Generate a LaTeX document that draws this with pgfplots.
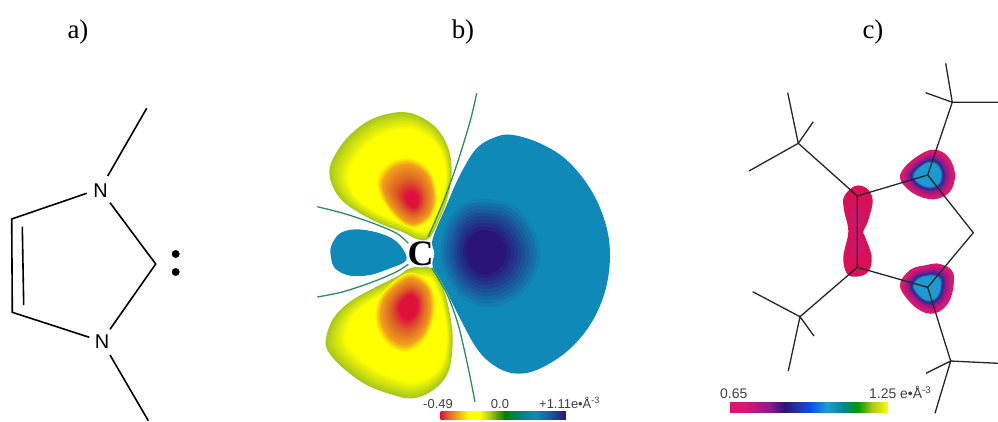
\documentclass[border=0pt]{standalone}
\usepackage{fontspec}
\setmainfont{Liberation Serif}
\newfontfamily\arial{Liberation Sans}
\usepackage{pgfplots}
\usepackage{pgfplotstable}
\pgfplotsset{compat=1.18}
\definecolor{bluebase}{HTML}{0F8AB8}
\definecolor{navy}{HTML}{2A1478}
\definecolor{lgreen}{HTML}{A8C81C}
\definecolor{yel}{HTML}{FFFF00}
\definecolor{ora}{HTML}{F09A1E}
\definecolor{redo}{HTML}{DC5A28}
\definecolor{crim}{HTML}{E0103C}
\definecolor{cgreen}{HTML}{2E8C62}
\definecolor{mag}{HTML}{D8186E}
\definecolor{pur}{HTML}{8A1A90}
\definecolor{dnavy}{HTML}{2A2A90}
\definecolor{cyanb}{HTML}{1C9BD0}
\definecolor{dumb}{HTML}{D81058}
% contours in zoomed pixel coordinates
\pgfplotstableread{
x y
398 462
440 360
480 270
530 190
590 155
640 150
720 175
800 225
870 310
915 410
930 510
915 620
870 720
800 800
710 855
640 865
580 840
530 790
480 700
430 600
398 545
403 505
}\Rlobe
\pgfplotstableread{
x y
550 370
620 385
670 440
690 510
665 580
610 625
545 635
490 605
455 550
445 490
465 420
505 380
}\Rcore
\pgfplotstableread{
x y
387 460
420 400
445 330
455 260
445 190
410 130
350 90
290 82
210 105
140 160
95 230
90 280
120 340
180 385
250 420
310 442
350 462
}\Ulobe
\pgfplotstableread{
x y
335 235
385 270
403 340
385 395
340 420
295 395
255 340
245 290
280 245
}\Ucore
\pgfplotstableread{
x y
395 550
430 610
450 690
458 770
445 860
400 915
340 940
280 930
200 900
130 850
85 800
78 760
100 700
150 650
220 610
290 575
335 548
}\Llobe
\pgfplotstableread{
x y
335 575
385 610
395 680
370 750
320 785
270 765
240 710
245 650
285 600
}\Lcore
\pgfplotstableread{
x y
318 510
290 470
240 445
170 433
120 445
95 480
92 510
105 550
150 572
210 570
270 550
312 532
}\Slobe
\pgfplotstableread{
x y
690 270
740 285
765 340
750 395
700 418
640 400
600 355
625 310
}\Tri
\pgfplotstableread{
x y
720 612
760 640
750 720
705 760
650 745
600 680
630 630
680 615
}\Trib
\pgfplotstableread{
x y
465 378
500 385
518 420
505 480
490 515
495 530
515 590
505 635
470 650
440 640
430 590
445 515
432 450
432 410
}\Dumb
\pgfplotstableread{
x y
362 467
390 479
402 507
390 535
362 547
334 535
322 507
334 479
}\Disc
\newcommand\Blob[7]{%
 \addplot[draw=none,fill=#7,smooth cycle,tension=0.6,forget plot] table[
  x expr={#2+(#4+#6*(\thisrow{x}-#4))/3},
  y expr={#3+(#5+#6*(\thisrow{y}-#5))/3}] {#1};}
% ramp of nested contours from scale s0, colour c0 to scale s1, colour c1
\newcommand\Ramp[9]{%
 \foreach \i in {0,...,10}{%
  \pgfmathsetmacro\sc{#6+(#7-#6)*\i/10}%
  \pgfmathtruncatemacro\pc{100-10*\i}%
  \edef\tmp{\noexpand\Blob{\noexpand#1}{#2}{#3}{#4}{#5}{\sc}{#8!\pc!#9}}\tmp
 }}
\newcommand\Seg[6]{%
 \addplot[draw=none,left color=#5,right color=#6,forget plot] coordinates {(#1,#3)(#2,#3)(#2,#4)(#1,#4)(#1,#3)};}
\newcommand\Sf[1]{\arial\fontsize{#1}{#1}\selectfont}
\begin{document}
\begin{tikzpicture}[x=1bp,y=1bp]
\useasboundingbox (0,0) rectangle (998,421);
\begin{axis}[at={(0,0)},anchor=south west,scale only axis,width=998bp,height=421bp,xmin=0,xmax=998,ymin=0,ymax=421,y dir=reverse,
 axis lines=none,clip=true]
%% panel a
\addplot[black,line width=1.6bp,forget plot] coordinates {(146.7,108.3)(107.7,176)};
\addplot[black,line width=1.6bp,forget plot] coordinates {(86.7,193.3)(11.7,219)(12.3,312.3)(89.3,337.3)};
\addplot[black,line width=1.6bp,forget plot] coordinates {(22.3,226.7)(23.7,305)};
\addplot[black,line width=1.6bp,forget plot] coordinates {(110,202.7)(155.7,264)(110,329.3)};
\addplot[black,line width=1.6bp,forget plot] coordinates {(110,355)(148.3,420.7)};
\addplot[only marks,mark=*,mark size=3.7bp,black,forget plot] coordinates {(175.7,254)(175.7,272)};
%% panel b
\Blob{\Rlobe}{300}{85}{550}{500}{1}{bluebase}
\Ramp{\Rcore}{300}{85}{550}{500}{1.3}{0.5}{bluebase}{navy}
\Blob{\Slobe}{300}{85}{200}{505}{1}{bluebase}
% upper lobe
\Ramp{\Ulobe}{300}{85}{370}{330}{1}{0.8}{lgreen}{yel}
\Ramp{\Ucore}{300}{85}{340}{350}{1.15}{0.95}{yel}{ora}
\Ramp{\Ucore}{300}{85}{340}{350}{0.95}{0.55}{ora}{redo}
\Ramp{\Ucore}{300}{85}{340}{350}{0.55}{0.25}{redo}{crim}
% lower lobe
\Ramp{\Llobe}{300}{85}{370}{700}{1}{0.8}{lgreen}{yel}
\Ramp{\Lcore}{300}{85}{330}{660}{1.15}{0.95}{yel}{ora}
\Ramp{\Lcore}{300}{85}{330}{660}{0.95}{0.6}{ora}{redo}
\Ramp{\Lcore}{300}{85}{330}{660}{0.6}{0.35}{redo}{crim}
% green lines
\addplot[cgreen,line width=1.3bp,smooth,forget plot] coordinates {(476.7,93.3)(470,121.7)(456.7,165)(443.3,201.7)(428.3,236.7)};
\addplot[cgreen,line width=1.3bp,smooth,forget plot] coordinates {(317.3,206.7)(343.3,213.3)(373.3,223.3)(396.7,233.3)(408.3,243.3)};
\addplot[cgreen,line width=1.3bp,smooth,forget plot] coordinates {(317.3,297)(343.3,291.7)(373.3,281.7)(396.7,271.7)(408.3,264.3)};
\addplot[cgreen,line width=1.3bp,smooth,forget plot] coordinates {(431.7,267.7)(446.7,293.3)(458.3,325)(468.3,368.3)(475,401.7)};
\Blob{\Disc}{300}{85}{362}{507}{1}{white}
\node[font=\bfseries\fontsize{36}{36}\selectfont,inner sep=0pt] at (axis cs:420.7,254) {C};
% colourbar b
\Seg{440.7}{447}{411}{419}{crim}{redo}
\Seg{446.8}{456}{411}{419}{redo}{ora}
\Seg{455.8}{468}{411}{419}{ora}{yel}
\Seg{467.8}{480}{411}{419}{yel}{yel}
\Seg{479.8}{490}{411}{419}{yel}{lgreen}
\Seg{489.8}{505}{411}{419}{lgreen}{green!50!black}
\Seg{504.8}{520}{411}{419}{green!50!black}{teal}
\Seg{519.8}{535}{411}{419}{teal}{bluebase}
\Seg{534.8}{550}{411}{419}{bluebase}{bluebase!60!navy}
\Seg{549.8}{566}{411}{419}{bluebase!60!navy}{navy}
\node[font=\Sf{13},text=black!75,inner sep=0pt,anchor=base] at (axis cs:438,408) {-0.49};
\node[font=\Sf{13},text=black!75,inner sep=0pt,anchor=base] at (axis cs:500,408) {0.0};
\node[font=\Sf{13},text=black!75,inner sep=0pt,anchor=base west] at (axis cs:539,408) {+1.11e•Å\textsuperscript{-3}};
%% panel c
\Blob{\Dumb}{700}{60}{470}{515}{1}{dumb}
\Blob{\Dumb}{700}{60}{470}{515}{0.55}{dumb!55!mag!90!pur}
\Blob{\Tri}{700}{60}{683}{345}{1}{mag}
\Ramp{\Tri}{700}{60}{683}{345}{0.9}{0.68}{mag}{pur}
\Ramp{\Tri}{700}{60}{683}{345}{0.68}{0.58}{pur}{dnavy}
\Ramp{\Tri}{700}{60}{683}{345}{0.58}{0.48}{dnavy}{cyanb}
\Blob{\Trib}{700}{60}{683}{682}{1}{mag}
\Ramp{\Trib}{700}{60}{683}{682}{0.9}{0.68}{mag}{pur}
\Ramp{\Trib}{700}{60}{683}{682}{0.68}{0.58}{pur}{dnavy}
\Ramp{\Trib}{700}{60}{683}{682}{0.58}{0.48}{dnavy}{cyanb}
% molecule skeleton (real pixel coordinates)
\addplot[black!85,line width=1.3bp,forget plot] coordinates {(787.7,92.7)(798.3,143.3)(857.3,196)(857.3,267.3)(800,316.7)(752.7,291.7)};
\addplot[black!85,line width=1.3bp,forget plot] coordinates {(813.3,121.7)(798.3,143.3)(749,171)};
\addplot[black!85,line width=1.3bp,forget plot] coordinates {(814,336)(800,316.7)(788.3,371)};
\addplot[black!85,line width=1.3bp,forget plot] coordinates {(857.3,196)(927.7,175)(952.3,102.3)(945.7,63.3)};
\addplot[black!85,line width=1.3bp,forget plot] coordinates {(925.7,92.7)(952.3,102.3)(998,102.3)};
\addplot[black!85,line width=1.3bp,forget plot] coordinates {(927.7,175)(973.3,232.7)(927.7,287.3)(950.7,361)(998,363.3)};
\addplot[black!85,line width=1.3bp,forget plot] coordinates {(857.3,267.3)(927.7,287.3)};
\addplot[black!85,line width=1.3bp,forget plot] coordinates {(926,373.3)(950.7,361)(935,413.3)};
% colourbar c
\Seg{730}{745}{402}{412}{mag}{mag}
\Seg{744.8}{770}{402}{412}{mag}{pur}
\Seg{769.8}{785}{402}{412}{pur}{navy}
\Seg{784.8}{793}{402}{412}{navy}{dnavy}
\Seg{792.8}{810}{402}{412}{dnavy}{blue!50!cyanb}
\Seg{809.8}{827}{402}{412}{blue!50!cyanb}{cyanb}
\Seg{826.8}{843}{402}{412}{cyanb}{teal!80!cyanb}
\Seg{842.8}{858}{402}{412}{teal!80!cyanb}{green!60!black}
\Seg{857.8}{872}{402}{412}{green!60!black}{lgreen}
\Seg{871.8}{888}{402}{412}{lgreen}{yel}
\node[font=\Sf{14},text=black!75,inner sep=0pt,anchor=base west] at (axis cs:720,398.5) {0.65};
\node[font=\Sf{14},text=black!75,inner sep=0pt,anchor=base west] at (axis cs:869,398.5) {1.25 e•Å\textsuperscript{-3}};
%% panel a letters
\node[font=\Sf{20},inner sep=0pt] at (axis cs:100.5,190.5) {N};
\node[font=\Sf{20},inner sep=0pt] at (axis cs:102,341.5) {N};
%% titles
\node[font=\fontsize{27}{27}\selectfont,inner sep=0pt,anchor=base] at (axis cs:78,38) {a)};
\node[font=\fontsize{27}{27}\selectfont,inner sep=0pt,anchor=base] at (axis cs:463,38) {b)};
\node[font=\fontsize{27}{27}\selectfont,inner sep=0pt,anchor=base] at (axis cs:873,38) {c)};
\end{axis}
\end{tikzpicture}
\end{document}
